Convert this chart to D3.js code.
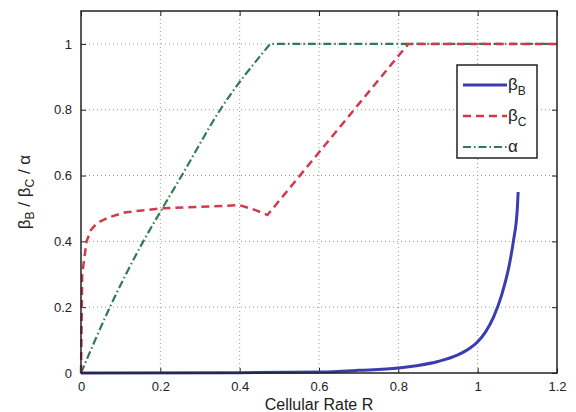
<!DOCTYPE html>
<html>
<head>
<meta charset="utf-8">
<script src="https://cdn.jsdelivr.net/npm/d3@7"></script>
<style>
  body { margin: 0; background: #fff; }
  text { font-family: "Liberation Sans", Arial, sans-serif; fill: #222; }
</style>
</head>
<body>
<svg width="576" height="412"></svg>
<script>
// values
const rB = [0, 0.4, 0.6, 0.7, 0.8, 0.85, 0.9, 0.95, 0.98, 1.0, 1.02, 1.04, 1.06, 1.08, 1.09, 1.1, 1.102];
const betaB = [0, 0.001, 0.003, 0.008, 0.015, 0.023, 0.035, 0.055, 0.075, 0.095, 0.125, 0.17, 0.235, 0.33, 0.4, 0.5, 0.55];

const rC = [0, 0.003, 0.014, 0.025, 0.04, 0.068, 0.11, 0.2, 0.3, 0.4, 0.44, 0.47, 0.825, 1.2];
const betaC = [0, 0.3, 0.4, 0.435, 0.455, 0.472, 0.488, 0.5, 0.505, 0.51, 0.495, 0.48, 1, 1];

const rA = [0, 0.069, 0.157, 0.205, 0.254, 0.351, 0.477];
const alpha = [0, 0.19, 0.4, 0.5, 0.6, 0.8, 1];
const rAflat = [0.477, 1.2];
const alphaFlat = [1, 1];

const xTicks = [0, 0.2, 0.4, 0.6, 0.8, 1, 1.2];
const yTicks = [0, 0.2, 0.4, 0.6, 0.8, 1];

const svg = d3.select("svg");
const m = { left: 81, right: 557, top: 11, bottom: 373 };

const x = d3.scaleLinear().domain([0, 1.2]).range([m.left, m.right]);
const y = d3.scaleLinear().domain([0, 1.1]).range([m.bottom, m.top]);

// grid
svg.append("g").selectAll("line").data(xTicks.slice(1, -1)).join("line")
    .attr("x1", d => x(d)).attr("x2", d => x(d))
    .attr("y1", m.top).attr("y2", m.bottom)
    .attr("stroke", "#999").attr("stroke-dasharray", "1,3");
svg.append("g").selectAll("line").data(yTicks.slice(1)).join("line")
    .attr("y1", d => y(d)).attr("y2", d => y(d))
    .attr("x1", m.left).attr("x2", m.right)
    .attr("stroke", "#999").attr("stroke-dasharray", "1,3");

// axes (matlab style: ticks inside, on all sides)
const fmt = d => d3.format("~g")(d);
svg.append("g").attr("transform", `translate(0,${m.bottom})`)
    .call(d3.axisBottom(x).tickValues(xTicks).tickSize(-5).tickPadding(9).tickFormat(fmt))
    .call(g => g.select(".domain").remove());
svg.append("g").attr("transform", `translate(0,${m.top})`)
    .call(d3.axisTop(x).tickValues(xTicks).tickSize(-5).tickFormat(""))
    .call(g => g.select(".domain").remove());
svg.append("g").attr("transform", `translate(${m.left},0)`)
    .call(d3.axisLeft(y).tickValues(yTicks).tickSize(-5).tickPadding(9).tickFormat(fmt))
    .call(g => g.select(".domain").remove());
svg.append("g").attr("transform", `translate(${m.right},0)`)
    .call(d3.axisRight(y).tickValues(yTicks).tickSize(-5).tickFormat(""))
    .call(g => g.select(".domain").remove());
svg.selectAll(".tick text").attr("font-size", 13).attr("fill", "#222")
    .attr("font-family", "Liberation Sans, Arial, sans-serif");
svg.selectAll(".tick line").attr("stroke", "#222");

const line = d3.line().x(d => x(d[0])).y(d => y(d[1]));
const smooth = d3.line().x(d => x(d[0])).y(d => y(d[1])).curve(d3.curveMonotoneX);

// alpha: rising part + plateau in one path so the dash pattern runs on
const alphaPath = smooth(d3.zip(rA, alpha)) + line(d3.zip(rAflat, alphaFlat)).replace(/^M/, "L");
svg.append("path").attr("d", alphaPath)
    .attr("fill", "none").attr("stroke", "#2d7a55").attr("stroke-width", 2.2)
    .attr("stroke-dasharray", "8,3,1.5,3");
svg.append("path").datum(d3.zip(rC, betaC)).attr("d", line)
    .attr("fill", "none").attr("stroke", "#d23a4c").attr("stroke-width", 2.5)
    .attr("stroke-dasharray", "8,5");
svg.append("path").datum(d3.zip(rB, betaB)).attr("d", smooth)
    .attr("fill", "none").attr("stroke", "#3a3dae").attr("stroke-width", 3);

// frame
svg.append("rect").attr("x", m.left).attr("y", m.top)
    .attr("width", m.right - m.left).attr("height", m.bottom - m.top)
    .attr("fill", "none").attr("stroke", "#222").attr("stroke-width", 1.5);

// labels
svg.append("text").attr("x", (m.left + m.right) / 2).attr("y", 410)
    .attr("text-anchor", "middle").attr("font-size", 16).text("Cellular Rate R");

const yl = svg.append("text").attr("transform", `translate(30,${(m.top + m.bottom) / 2}) rotate(-90)`)
    .attr("text-anchor", "middle").attr("font-size", 17);
yl.append("tspan").text("β");
yl.append("tspan").attr("font-size", 12).attr("dy", 4).text("B");
yl.append("tspan").attr("dy", -4).text(" / β");
yl.append("tspan").attr("font-size", 12).attr("dy", 4).text("C");
yl.append("tspan").attr("dy", -4).text(" / α");

// legend
const lg = svg.append("g");
lg.append("rect").attr("x", 457).attr("y", 65).attr("width", 80).attr("height", 93)
    .attr("fill", "#fff").attr("stroke", "#222").attr("stroke-width", 1.5);
const items = [
    { sym: "β", sub: "B", color: "#3a3dae", dash: null, w: 3 },
    { sym: "β", sub: "C", color: "#d23a4c", dash: "8,5", w: 2.5 },
    { sym: "α", sub: "", color: "#2d7a55", dash: "8,3,1.5,3", w: 2.2 }
];
items.forEach((d, i) => {
    const yy = 85 + i * 31;
    lg.append("line").attr("x1", 463).attr("x2", 507).attr("y1", yy).attr("y2", yy)
        .attr("stroke", d.color).attr("stroke-width", d.w)
        .attr("stroke-dasharray", d.dash);
    const t = lg.append("text").attr("x", 508).attr("y", yy + 5).attr("font-size", 17);
    t.append("tspan").text(d.sym);
    if (d.sub) t.append("tspan").attr("font-size", 12).attr("dy", 5).text(d.sub);
});
</script>
</body>
</html>
